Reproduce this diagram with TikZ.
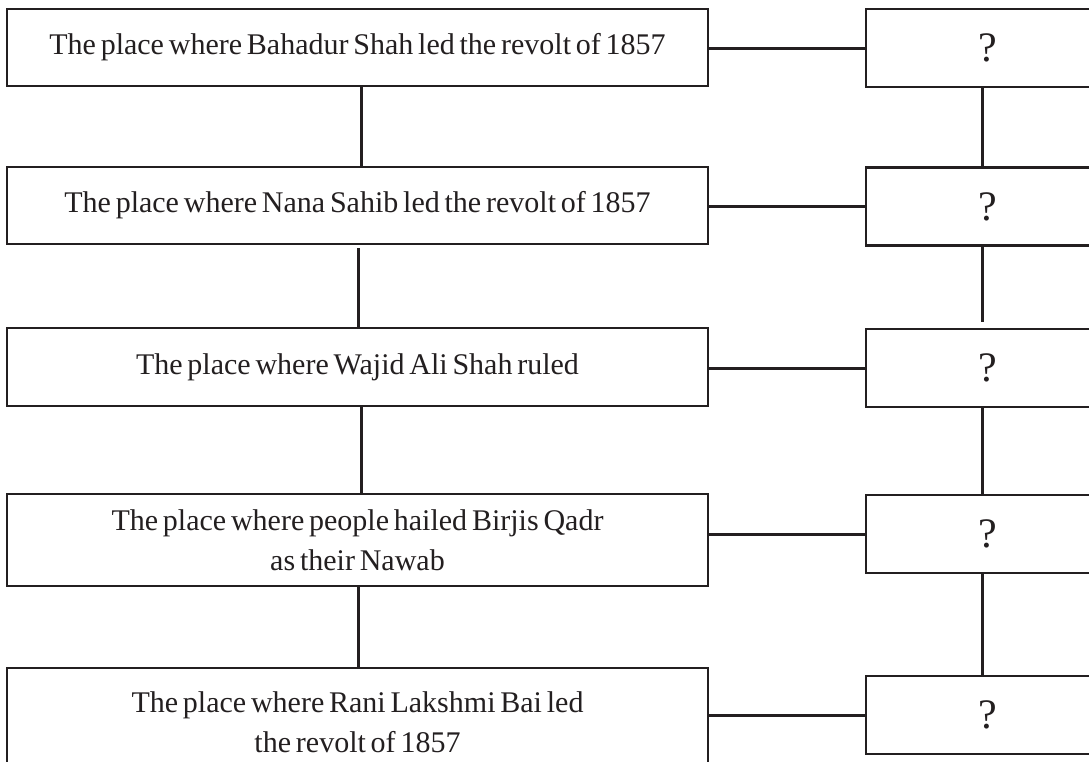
\documentclass[tikz,border=0pt]{standalone}
\usepackage{fontspec}
\setmainfont{Liberation Serif}[WordSpace=0.64]
\definecolor{ink}{HTML}{231F20}
\begin{document}
\begin{tikzpicture}[x=1pt,y=-1pt,
  qbox/.style={draw=ink, line width=2.5pt, inner sep=0pt, rectangle, align=center,
    text=ink, font=\fontsize{30}{40}\selectfont},
  lbox/.style={qbox, minimum width=701pt},
  rbox/.style={qbox, minimum width=244pt, minimum height=78pt, font=\fontsize{42}{50}\selectfont},
  link/.style={draw=ink, line width=3pt}]
\useasboundingbox (0,0) rectangle (1089,761);
\clip (0,0) rectangle (1089,761);
\fill[white] (0,0) rectangle (1089,761);
% left boxes
\node[lbox, minimum height=77pt] (L1) at (357.5,47.5) {The place where Bahadur Shah led the revolt of 1857};
\node[lbox, minimum height=77pt] (L2) at (357.5,205.5) {The place where Nana Sahib led the revolt of 1857};
\node[lbox, minimum height=78pt] (L3) at (357.5,367) {The place where Wajid Ali Shah ruled};
\node[lbox, minimum height=92pt] (L4) at (357.5,540) {The place where people hailed Birjis Qadr\\as their Nawab};
\node[lbox, minimum height=108pt] (L5) at (357.5,722) {The place where Rani Lakshmi Bai led\\the revolt of 1857};
% right boxes
\node[rbox] (R1) at (988,48) {?};
\node[rbox] (R2) at (988,206.5) {?};
\node[rbox] (R3) at (988,368) {?};
\node[rbox] (R4) at (988,534) {?};
\node[rbox] (R5) at (988,715) {?};
% horizontal connectors
\foreach \i in {1,...,5}{
  \draw[link] (R\i.west) -- (R\i.west -| L\i.east);
}
% left vertical connectors
\draw[link] ([xshift=3.5pt]L1.south) -- ([xshift=3.5pt]L1.south |- L2.north);
\draw[link, shorten <=3pt] ([xshift=0.5pt]L2.south) -- ([xshift=0.5pt]L2.south |- L3.north);
\draw[link] ([xshift=3.5pt]L3.south) -- ([xshift=3.5pt]L3.south |- L4.north);
\draw[link] ([xshift=0.5pt]L4.south) -- ([xshift=0.5pt]L4.south |- L5.north);
% right vertical connectors
\draw[link] ([xshift=-6pt]R1.south) -- ([xshift=-6pt]R1.south |- R2.north);
\draw[link, shorten >=6pt] ([xshift=-6pt]R2.south) -- ([xshift=-6pt]R2.south |- R3.north);
\draw[link] ([xshift=-6pt]R3.south) -- ([xshift=-6pt]R3.south |- R4.north);
\draw[link] ([xshift=-6pt]R4.south) -- ([xshift=-6pt]R4.south |- R5.north);
\end{tikzpicture}
\end{document}
